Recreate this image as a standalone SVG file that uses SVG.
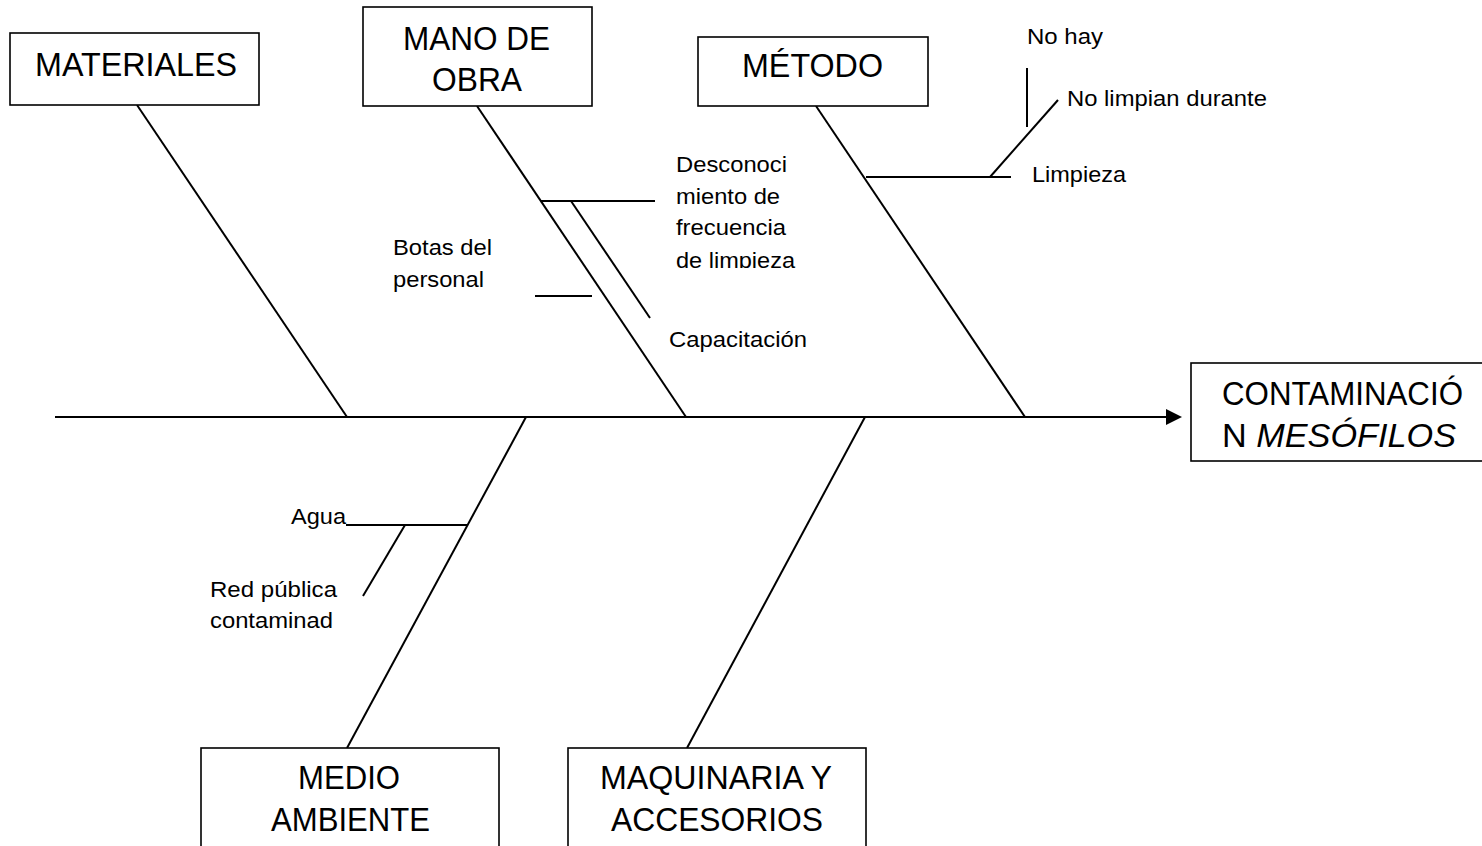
<svg xmlns="http://www.w3.org/2000/svg" width="1482" height="846" viewBox="0 0 1482 846">
<style>
.box{fill:#fff;stroke:#000;stroke-width:1.6}
.ln{stroke:#000;stroke-width:2;fill:none}
.big{font-family:"Liberation Sans",Arial,sans-serif;font-size:33px;fill:#000}
.sm{font-family:"Liberation Sans",Arial,sans-serif;font-size:22.5px;fill:#000}
</style>
<defs>
<clipPath id="clipLimp"><rect x="600" y="240" width="250" height="28"/></clipPath>
</defs>
<rect width="1482" height="846" fill="#fff"/>
<g id="connectors">
<line class="ln" x1="55" y1="417" x2="1168" y2="417"/>
<polygon points="1166,409 1182,417 1166,425" fill="#000"/>
<line class="ln" x1="137" y1="105" x2="347" y2="417"/>
<line class="ln" x1="477" y1="106" x2="686" y2="417"/>
<line class="ln" x1="816" y1="106" x2="1025" y2="417"/>
<line class="ln" x1="526" y1="417" x2="347" y2="748"/>
<line class="ln" x1="865" y1="417" x2="687" y2="748"/>
<line class="ln" x1="541" y1="201" x2="655" y2="201"/>
<line class="ln" x1="571" y1="201" x2="650" y2="318"/>
<line class="ln" x1="535" y1="296" x2="592" y2="296"/>
<line class="ln" x1="866" y1="177" x2="1011" y2="177"/>
<line class="ln" x1="990" y1="177" x2="1058" y2="100"/>
<line class="ln" x1="1027" y1="68" x2="1027" y2="127"/>
<line class="ln" x1="346" y1="525" x2="467" y2="525"/>
<line class="ln" x1="405" y1="525" x2="363" y2="596"/>
</g>
<g id="materiales">
<rect class="box" x="10" y="33" width="249" height="72"/>
<text class="big" x="35" y="76" textLength="202" lengthAdjust="spacingAndGlyphs">MATERIALES</text>
</g>
<g id="mano-de-obra">
<rect class="box" x="363" y="7" width="229" height="99"/>
<text class="big" x="403" y="50" textLength="147" lengthAdjust="spacingAndGlyphs">MANO DE</text>
<text class="big" x="432" y="91" textLength="90" lengthAdjust="spacingAndGlyphs">OBRA</text>
</g>
<g id="metodo">
<rect class="box" x="698" y="37" width="230" height="69"/>
<text class="big" x="742" y="77" textLength="141" lengthAdjust="spacingAndGlyphs">MÉTODO</text>
</g>
<g id="contaminacion">
<rect class="box" x="1191" y="363" width="302" height="98"/>
<text class="big" x="1222" y="405" textLength="241" lengthAdjust="spacingAndGlyphs">CONTAMINACIÓ</text>
<text class="big" x="1222" y="447" textLength="234" lengthAdjust="spacingAndGlyphs">N <tspan font-style="italic">MESÓFILOS</tspan></text>
</g>
<g id="medio-ambiente">
<rect class="box" x="201" y="748" width="298" height="110"/>
<text class="big" x="298" y="789" textLength="102" lengthAdjust="spacingAndGlyphs">MEDIO</text>
<text class="big" x="271" y="831" textLength="159" lengthAdjust="spacingAndGlyphs">AMBIENTE</text>
</g>
<g id="maquinaria">
<rect class="box" x="568" y="748" width="298" height="110"/>
<text class="big" x="600" y="789" textLength="232" lengthAdjust="spacingAndGlyphs">MAQUINARIA Y</text>
<text class="big" x="611" y="831" textLength="212" lengthAdjust="spacingAndGlyphs">ACCESORIOS</text>
</g>
<g id="labels">
<text class="sm" x="1027" y="44" textLength="76" lengthAdjust="spacingAndGlyphs">No hay</text>
<text class="sm" x="1067" y="106" textLength="200" lengthAdjust="spacingAndGlyphs">No limpian durante</text>
<text class="sm" x="1032" y="182" textLength="94" lengthAdjust="spacingAndGlyphs">Limpieza</text>
<text class="sm" x="676" y="172" textLength="111" lengthAdjust="spacingAndGlyphs">Desconoci</text>
<text class="sm" x="676" y="204" textLength="104" lengthAdjust="spacingAndGlyphs">miento de</text>
<text class="sm" x="676" y="235" textLength="110" lengthAdjust="spacingAndGlyphs">frecuencia</text>
<text class="sm" x="676" y="268" textLength="119" lengthAdjust="spacingAndGlyphs" clip-path="url(#clipLimp)">de limpieza</text>
<text class="sm" x="393" y="255" textLength="99" lengthAdjust="spacingAndGlyphs">Botas del</text>
<text class="sm" x="393" y="287" textLength="91" lengthAdjust="spacingAndGlyphs">personal</text>
<text class="sm" x="669" y="347" textLength="138" lengthAdjust="spacingAndGlyphs">Capacitación</text>
<text class="sm" x="291" y="524" textLength="55" lengthAdjust="spacingAndGlyphs">Agua</text>
<text class="sm" x="210" y="597" textLength="127" lengthAdjust="spacingAndGlyphs">Red pública</text>
<text class="sm" x="210" y="628" textLength="123" lengthAdjust="spacingAndGlyphs">contaminad</text>
</g>
</svg>
